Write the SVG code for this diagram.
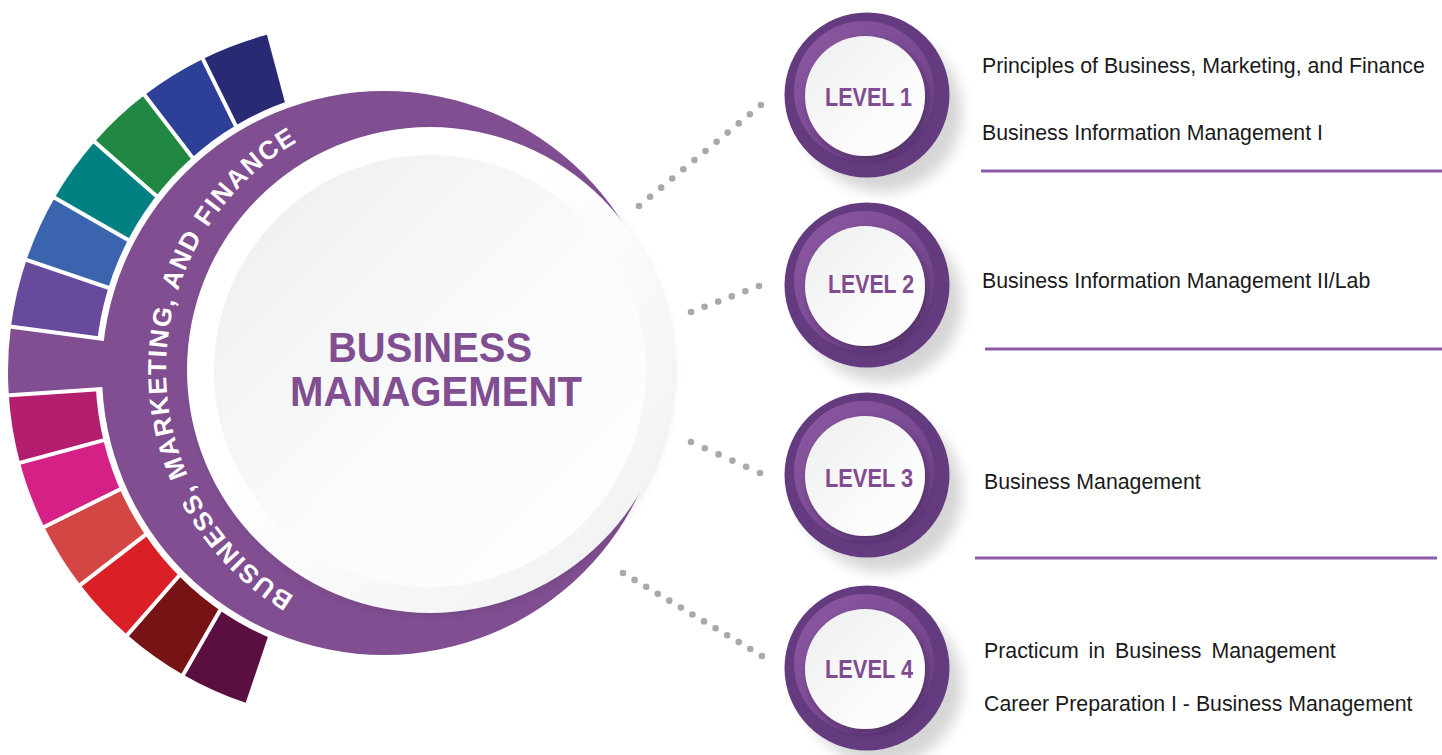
<svg xmlns="http://www.w3.org/2000/svg" width="1442" height="755" viewBox="0 0 1442 755">
<defs>
<style>
.sep{stroke:#fff;stroke-width:4;fill:none}
.dots{stroke:#A7A9AC;stroke-width:6.6;stroke-linecap:round;fill:none}
.lvlOuter{fill:#633B7E}
.lvlRing{fill:url(#gRing)}
.lvlFace{fill:url(#gFace);filter:url(#fFace)}
.lvlShadow{fill:#000;opacity:.16;filter:url(#fLong)}
.lvlText{font-family:"Liberation Sans",Arial,sans-serif;font-weight:bold;font-size:25px;fill:#7F4C92}
.course{font-family:"Liberation Sans",Arial,sans-serif;font-size:21.3px;fill:#1a1a1a}
.rule{stroke:#8B5BA5;stroke-width:2.8}
.mainText{font-family:"Liberation Sans",Arial,sans-serif;font-weight:bold;font-size:42px;fill:#804E91}
.bandText{font-family:"Liberation Sans",Arial,sans-serif;font-weight:bold;font-size:26px;fill:#fff;letter-spacing:1.6px}
</style>
<linearGradient id="gRing" x1="0" y1="0" x2="1" y2="1">
<stop offset="0" stop-color="#8D58A3"/><stop offset="1" stop-color="#6A3F83"/>
</linearGradient>
<linearGradient id="gFace" x1="0" y1="0" x2="1" y2="1">
<stop offset="0" stop-color="#EDEEEE"/><stop offset="0.6" stop-color="#FAFAFA"/><stop offset="1" stop-color="#FFFFFF"/>
</linearGradient>
<linearGradient id="gOuterWhite" x1="0" y1="0" x2="1" y2="1">
<stop offset="0.4" stop-color="#FFFFFF"/><stop offset="1" stop-color="#EEEFEF"/>
</linearGradient>
<linearGradient id="gInner" x1="0" y1="0" x2="1" y2="1">
<stop offset="0" stop-color="#ECEDED"/><stop offset="0.5" stop-color="#F9FAFA"/><stop offset="1" stop-color="#FFFFFF"/>
</linearGradient>
<filter id="fFace" x="-30%" y="-30%" width="160%" height="160%">
<feDropShadow dx="3" dy="4" stdDeviation="3" flood-color="#2d1540" flood-opacity="0.45"/>
</filter>
<filter id="fLong" x="-50%" y="-50%" width="200%" height="200%">
<feGaussianBlur stdDeviation="7"/>
</filter>
<filter id="fCenter" x="-20%" y="-20%" width="140%" height="140%">
<feDropShadow dx="2" dy="3" stdDeviation="3" flood-color="#000" flood-opacity="0.08"/>
</filter>
<path id="bandPath" d="M 430 634 A 264 264 0 0 1 430 106"/>
</defs>

<rect width="1442" height="755" fill="#fff"/>

<g id="segments">
<path d="M357 372 L245.7 702.8 A349 349 0 0 1 183.2 674.7 Z" fill="#5B0E40"/>
<path d="M357 372 L183.2 674.7 A349 349 0 0 1 127.4 634.9 Z" fill="#771315"/>
<path d="M357 372 L127.4 634.9 A349 349 0 0 1 80.5 584.9 Z" fill="#DA1F26"/>
<path d="M357 372 L80.5 584.9 A349 349 0 0 1 44.3 526.9 Z" fill="#D34643"/>
<path d="M357 372 L44.3 526.9 A349 349 0 0 1 20.0 462.8 Z" fill="#D52085"/>
<path d="M357 372 L20.0 462.8 A349 349 0 0 1 8.8 395.2 Z" fill="#B31E6F"/>
<path d="M357 372 L8.8 395.2 A349 349 0 0 1 10.9 326.7 Z" fill="#814E92"/>
<path d="M357 372 L10.9 326.7 A349 349 0 0 1 26.5 260.0 Z" fill="#674A9C"/>
<path d="M357 372 L26.5 260.0 A349 349 0 0 1 54.7 197.7 Z" fill="#3A64AE"/>
<path d="M357 372 L54.7 197.7 A349 349 0 0 1 94.6 141.9 Z" fill="#008080"/>
<path d="M357 372 L94.6 141.9 A349 349 0 0 1 144.6 95.1 Z" fill="#218843"/>
<path d="M357 372 L144.6 95.1 A349 349 0 0 1 202.8 58.9 Z" fill="#2E3F98"/>
<path d="M357 372 L202.8 58.9 A349 349 0 0 1 266.9 34.8 Z" fill="#292A74"/>
<circle cx="384" cy="373" r="288.5" fill="#fff"/>
<path d="M357 372 L57.7 392 A300 300 0 0 1 59.5 333.1 Z" fill="#814E92"/>
<line class="sep" x1="237.5" y1="580.1" x2="179.7" y2="680.7"/>
<line class="sep" x1="199.1" y1="552.8" x2="122.8" y2="640.1"/>
<line class="sep" x1="166.8" y1="518.4" x2="74.9" y2="589.2"/>
<line class="sep" x1="141.9" y1="478.5" x2="38.0" y2="530.0"/>
<line class="sep" x1="125.3" y1="434.4" x2="13.2" y2="464.6"/>
<line class="sep" x1="117.5" y1="388.0" x2="1.8" y2="395.7"/>
<line class="sep" x1="119.0" y1="340.9" x2="4.0" y2="325.8"/>
<line class="sep" x1="129.7" y1="295.0" x2="19.8" y2="257.7"/>
<line class="sep" x1="149.1" y1="252.1" x2="48.6" y2="194.2"/>
<line class="sep" x1="176.6" y1="213.7" x2="89.4" y2="137.3"/>
<line class="sep" x1="210.9" y1="181.6" x2="140.3" y2="89.5"/>
<line class="sep" x1="251.0" y1="156.7" x2="199.7" y2="52.6"/>
</g>

<g id="center">
<circle cx="384" cy="373" r="282" fill="#804E91"/>
<text class="bandText"><textPath href="#bandPath" startOffset="417" text-anchor="middle">BUSINESS, MARKETING, AND FINANCE</textPath></text>
<circle cx="430" cy="370" r="243" fill="url(#gOuterWhite)" filter="url(#fCenter)"/>
<circle cx="430" cy="371" r="216" fill="url(#gInner)"/>
<text class="mainText" x="328" y="362" textLength="204" lengthAdjust="spacingAndGlyphs">BUSINESS</text>
<text class="mainText" x="290" y="406" textLength="292" lengthAdjust="spacingAndGlyphs">MANAGEMENT</text>
</g>

<g id="connectors">
<line class="dots" x1="639" y1="206" x2="761" y2="105" stroke-dasharray="0 14.39"/>
<line class="dots" x1="691" y1="312" x2="759" y2="286" stroke-dasharray="0 14.55"/>
<line class="dots" x1="691" y1="442" x2="760" y2="473" stroke-dasharray="0 15.12"/>
<line class="dots" x1="623" y1="573" x2="762" y2="656" stroke-dasharray="0 13.48"/>
</g>

<g id="level1">
<circle class="lvlShadow" cx="882" cy="112" r="80"/>
<circle class="lvlOuter" cx="867" cy="95" r="82.5"/>
<circle class="lvlRing" cx="864" cy="91" r="70"/>
<circle class="lvlFace" cx="865" cy="96" r="60"/>
<text class="lvlText" x="825" y="106" textLength="87" lengthAdjust="spacingAndGlyphs">LEVEL 1</text>
</g>
<g id="level2">
<circle class="lvlShadow" cx="882" cy="302" r="80"/>
<circle class="lvlOuter" cx="867" cy="285" r="82.5"/>
<circle class="lvlRing" cx="864" cy="281" r="70"/>
<circle class="lvlFace" cx="865" cy="286" r="60"/>
<text class="lvlText" x="828" y="293" textLength="86" lengthAdjust="spacingAndGlyphs">LEVEL 2</text>
</g>
<g id="level3">
<circle class="lvlShadow" cx="882" cy="492" r="80"/>
<circle class="lvlOuter" cx="867" cy="475" r="82.5"/>
<circle class="lvlRing" cx="864" cy="471" r="70"/>
<circle class="lvlFace" cx="865" cy="476" r="60"/>
<text class="lvlText" x="825" y="487" textLength="88" lengthAdjust="spacingAndGlyphs">LEVEL 3</text>
</g>
<g id="level4">
<circle class="lvlShadow" cx="882" cy="685" r="80"/>
<circle class="lvlOuter" cx="867" cy="668" r="82.5"/>
<circle class="lvlRing" cx="864" cy="664" r="70"/>
<circle class="lvlFace" cx="865" cy="669" r="60"/>
<text class="lvlText" x="825" y="678" textLength="88" lengthAdjust="spacingAndGlyphs">LEVEL 4</text>
</g>

<g id="courses1">
<text class="course" x="982" y="73">Principles of Business, Marketing, and Finance</text>
<text class="course" x="982" y="140">Business Information Management I</text>
<line class="rule" x1="981" y1="171" x2="1442" y2="171"/>
</g>
<g id="courses2">
<text class="course" x="982" y="288">Business Information Management II/Lab</text>
<line class="rule" x1="985" y1="349" x2="1442" y2="349"/>
</g>
<g id="courses3">
<text class="course" x="984" y="489">Business Management</text>
<line class="rule" x1="975" y1="558" x2="1437" y2="558"/>
</g>
<g id="courses4">
<text class="course" x="984" y="658" word-spacing="4">Practicum in Business Management</text>
<text class="course" x="984" y="711">Career Preparation I - Business Management</text>
</g>
</svg>
